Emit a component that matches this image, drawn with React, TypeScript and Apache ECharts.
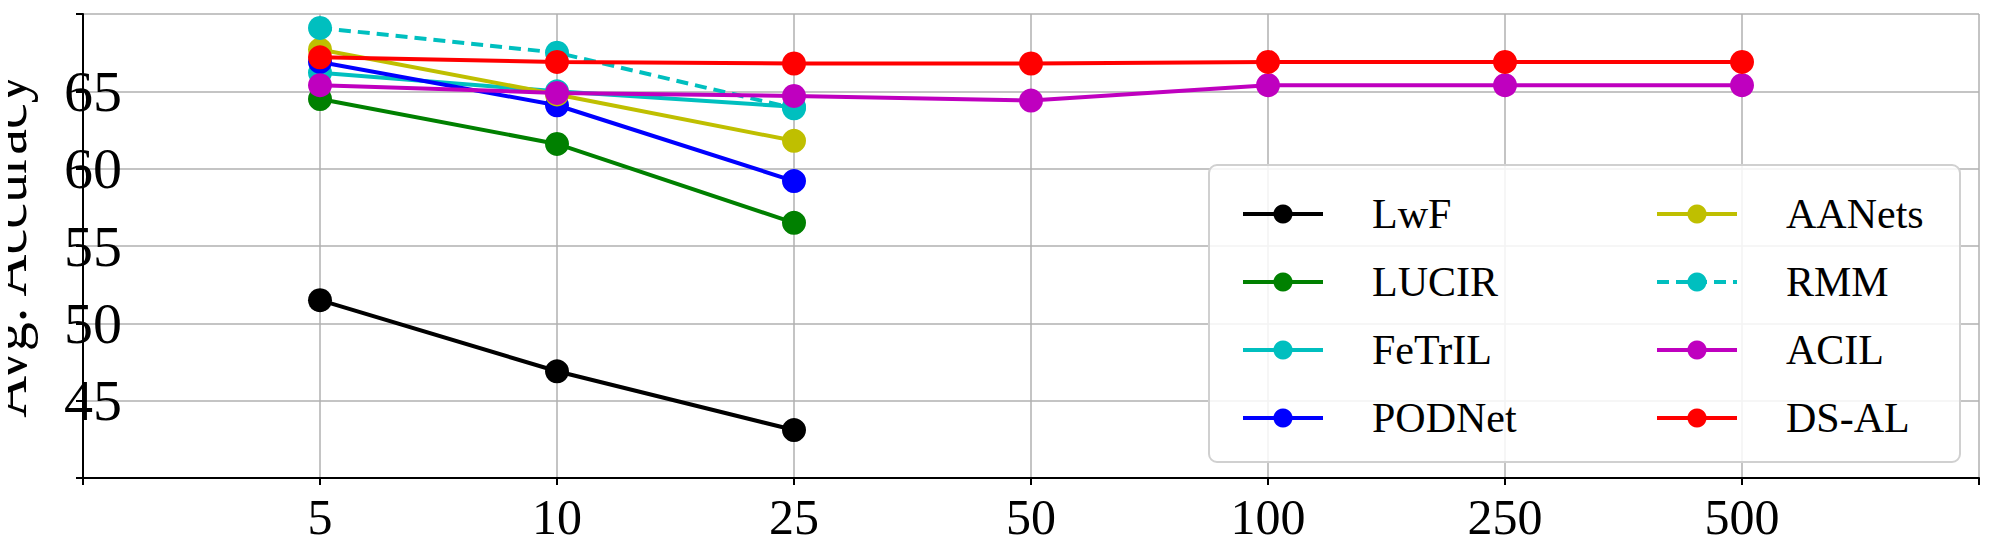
import React, { useEffect, useRef } from 'react';
import * as echarts from 'echarts';

const xLabels = ['5', '10', '25', '50', '100', '250', '500'];
const seriesNames = ['LwF', 'LUCIR', 'FeTrIL', 'PODNet', 'AANets', 'RMM', 'ACIL', 'DS-AL'];
const colors = ['#000000', '#008000', '#00bfbf', '#0000ff', '#bfbf00', '#00bfbf', '#bf00bf', '#ff0000'];
const lwf = [51.5, 46.9, 43.1];
const lucir = [64.5, 61.6, 56.5];
const fetril = [66.2, 65.0, 64.0];
const podnet = [66.9, 64.1, 59.2];
const aanets = [67.7, 64.8, 61.8];
const rmm = [69.1, 67.5, 63.9];
const acil = [65.4, 64.9, 64.7, 64.4, 65.4, 65.4, 65.4];
const dsal = [67.2, 66.9, 66.8, 66.8, 66.9, 66.9, 66.9];
const allValues = [lwf, lucir, fetril, podnet, aanets, rmm, acil, dsal];
const yTicks = [45, 50, 55, 60, 65];

const font = '"Liberation Serif", "DejaVu Serif", serif';

const App: React.FC = () => {
  const ref = useRef<HTMLDivElement>(null);

  useEffect(() => {
    if (!ref.current) return;
    const chart = echarts.init(ref.current, undefined, { renderer: 'svg' });

    const series = seriesNames.map((name, i) => ({
      name,
      type: 'line' as const,
      data: allValues[i].map((v, j) => [j + 1, v]),
      symbol: 'circle',
      symbolSize: 24,
      itemStyle: { color: colors[i] },
      lineStyle: { color: colors[i], width: 4, type: name === 'RMM' ? [12, 7] : 'solid' },
      z: 2 + i,
    }));

    const legendCommon = {
      orient: 'vertical' as const,
      top: 180,
      itemWidth: 80,
      itemHeight: 24,
      itemGap: 26,
      z: 100,
      lineStyle: { width: 4 },
      textStyle: { fontFamily: font, fontSize: 42, color: '#000', padding: [0, 0, 0, 44] },
    };

    chart.setOption({
      animation: false,
      grid: { left: 75, right: 4, top: 6, bottom: 70, outerBoundsMode: 'none', containLabel: false },
      xAxis: {
        type: 'value',
        min: 0,
        max: 8,
        interval: 1,
        axisLine: { lineStyle: { color: '#000', width: 2 } },
        axisTick: { show: true, length: 7, lineStyle: { color: '#000', width: 2 } },
        axisLabel: {
          fontFamily: font,
          fontSize: 50,
          color: '#000',
          margin: 14,
          formatter: (v: number) => (v >= 1 && v <= 7 ? xLabels[v - 1] : ''),
        },
        splitLine: { show: true, lineStyle: { color: '#b0b0b0', width: 1.5 } },
      },
      yAxis: {
        type: 'value',
        min: 40,
        max: 70,
        interval: 5,
        name: 'Avg. Accuracy',
        nameLocation: 'middle',
        nameGap: 48,
        nameTextStyle: { fontFamily: font, fontSize: 58, color: '#000' },
        axisLine: { show: true, lineStyle: { color: '#000', width: 2 } },
        axisTick: { show: true, length: 7, lineStyle: { color: '#000', width: 2 } },
        axisLabel: {
          fontFamily: font,
          fontSize: 58,
          color: '#000',
          align: 'center',
          margin: -10,
          formatter: (v: number) => (yTicks.includes(v) ? String(v) : ''),
        },
        splitLine: { show: true, lineStyle: { color: '#b0b0b0', width: 1.5 } },
      },
      graphic: [
        {
          type: 'rect',
          z: 50,
          shape: { x: 1201, y: 157, width: 751, height: 297, r: 8 },
          style: { fill: 'rgba(255,255,255,0.85)', stroke: '#d0d0d0', lineWidth: 2 },
        },
      ],
      legend: [
        { ...legendCommon, left: 1228, data: seriesNames.slice(0, 4) },
        { ...legendCommon, left: 1642, data: seriesNames.slice(4) },
      ],
      series,
    });

    return () => chart.dispose();
  }, []);

  return <div ref={ref} style={{ width: 1975, height: 540 }} />;
};

export default App;
